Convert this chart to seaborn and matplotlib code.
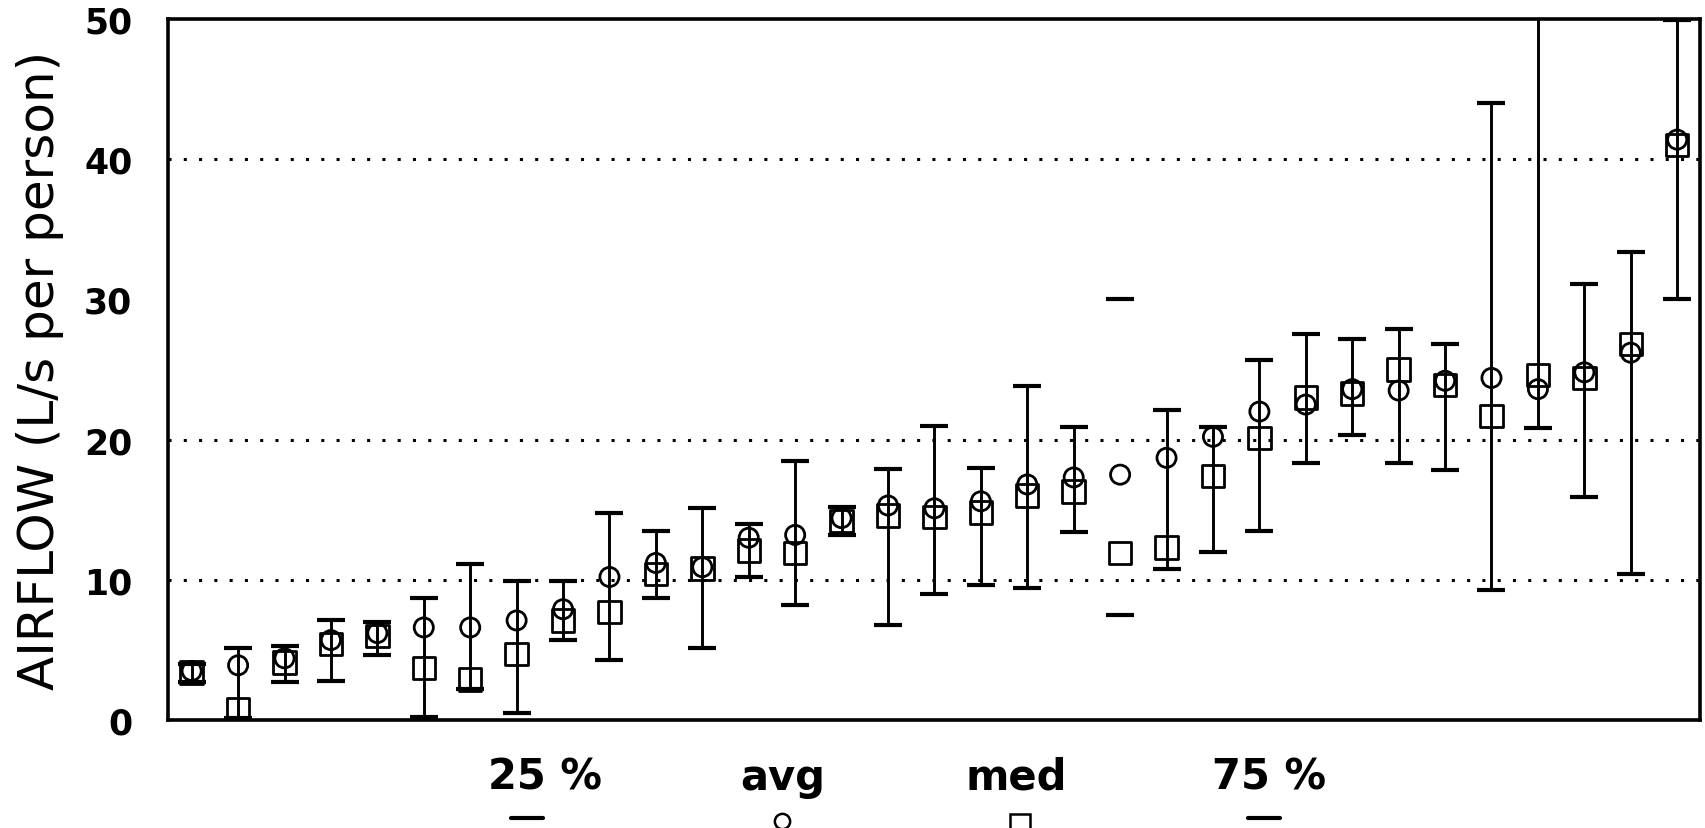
import numpy as np
import pandas as pd
import matplotlib
matplotlib.use("Agg")
import matplotlib.pyplot as plt
from matplotlib.lines import Line2D
import seaborn as sns

# values, one entry per group (left to right)
q25 = [2.7, 0.15, 2.7, 2.8, 4.6, 0.2, 2.2, 0.5, 5.7, 4.3, 8.7, 5.1, 10.2, 8.2, 13.2, 6.8, 9.0,
       9.6, 9.4, 13.4, 7.5, 10.8, 12.0, 13.5, 18.3, 20.3, 18.3, 17.8, 9.3, 20.8, 15.9, 10.4, 30.0]
avg = [3.5, 3.9, 4.4, 5.7, 6.2, 6.6, 6.6, 7.1, 7.9, 10.2, 11.2, 10.9, 13.0, 13.2, 14.4, 15.3, 15.1,
       15.6, 16.8, 17.3, 17.5, 18.7, 20.2, 22.0, 22.5, 23.6, 23.5, 24.2, 24.4, 23.6, 24.8, 26.2, 41.4]
med = [3.4, 0.8, 4.1, 5.4, 6.0, 3.7, 2.9, 4.7, 7.1, 7.7, 10.4, 10.8, 12.1, 11.9, 14.2, 14.6, 14.5,
       14.8, 16.0, 16.3, 11.9, 12.3, 17.4, 20.1, 23.0, 23.3, 25.0, 23.9, 21.7, 24.6, 24.4, 26.8, 41.0]
q75 = [4.0, 5.1, 5.3, 7.1, 7.0, 8.7, 11.1, 9.9, 9.9, 14.8, 13.5, 15.1, 14.0, 18.5, 15.2, 17.9, 21.0,
       18.0, 23.8, 20.9, 30.0, 22.1, 20.9, 25.7, 27.5, 27.2, 27.9, 26.8, 44.0, 55.0, 31.1, 33.4, 49.9]
# group 21 has its caps drawn but no connecting line in the original
has_line = [True] * 33
has_line[20] = False

y_ticks = [0, 10, 20, 30, 40, 50]
grid_at = [10, 20, 40]
legend_labels = ["25 %", "avg", "med", "75 %"]

df = pd.DataFrame({"x": np.arange(len(avg)), "q25": q25, "avg": avg, "med": med, "q75": q75,
                   "line": has_line})

sns.set_theme(style="white")
plt.rcParams["font.family"] = ["DejaVu Sans"]
plt.rcParams["text.color"] = "black"
plt.rcParams["axes.labelcolor"] = "black"
plt.rcParams["ytick.color"] = "black"

fig = plt.figure(figsize=(17.05, 8.29), dpi=100)
ax = fig.add_axes([0.0988, 0.1303, 0.8985, 0.8455])

# dotted reference lines
for g in grid_at:
    ax.axhline(g, color="black", lw=2.2, ls=(0, (1, 4)), dash_capstyle="butt", zorder=1)

# 25 % - 75 % range with caps
lined = df[df["line"]]
ax.vlines(lined["x"], lined["q25"], lined["q75"], color="black", lw=2.1, zorder=2)
ax.plot(df["x"], df["q25"], ls="none", marker="_", ms=19.5, mew=3.0, color="black", zorder=3)
ax.plot(df["x"], df["q75"], ls="none", marker="_", ms=19.5, mew=3.0, color="black", zorder=3)

# average and median markers, hollow
sns.scatterplot(data=df, x="x", y="avg", marker="o", s=190, linewidth=2.0, ax=ax, zorder=4)
ax.collections[-1].set_facecolor("none")
ax.collections[-1].set_edgecolor("black")
sns.scatterplot(data=df, x="x", y="med", marker="s", s=260, linewidth=2.0, ax=ax, zorder=4)
ax.collections[-1].set_facecolor("none")
ax.collections[-1].set_edgecolor("black")

ax.set_xlim(-0.5, len(avg) - 0.5)
ax.set_ylim(0, 50)
ax.set_xticks([])
ax.set_yticks(y_ticks)
ax.set_yticklabels([str(t) for t in y_ticks], fontsize=25, fontweight="bold")
ax.tick_params(axis="y", length=0, pad=26)
ax.set_xlabel("")
ax.set_ylabel("AIRFLOW (L/s per person)", fontsize=36)
ax.yaxis.set_label_coords(-0.068, 0.5)
for sp in ax.spines.values():
    sp.set_color("black")
    sp.set_linewidth(2.6)

# legend row under the chart: label, then its symbol below
W, H = 1705.0, 829.0
label_x = [545, 783, 1016, 1269]
for lab, lx in zip(legend_labels, label_x):
    fig.text(lx / W, 1 - 790 / H, lab, ha="center", va="baseline", fontsize=30, fontweight="bold")

fig.add_artist(Line2D([511 / W, 543 / W], [1 - 819 / H] * 2, color="black", lw=3.0,
                      transform=fig.transFigure))
fig.add_artist(Line2D([1248 / W, 1280 / W], [1 - 819 / H] * 2, color="black", lw=3.0,
                      transform=fig.transFigure))
fig.add_artist(Line2D([782 / W], [1 - 822 / H], marker="o", ms=11, mfc="none", mec="black",
                      mew=1.8, transform=fig.transFigure))
fig.add_artist(Line2D([1020 / W], [1 - 825 / H], marker="s", ms=14, mfc="none", mec="black",
                      mew=1.8, transform=fig.transFigure))

fig.savefig("out.png", dpi=100)
